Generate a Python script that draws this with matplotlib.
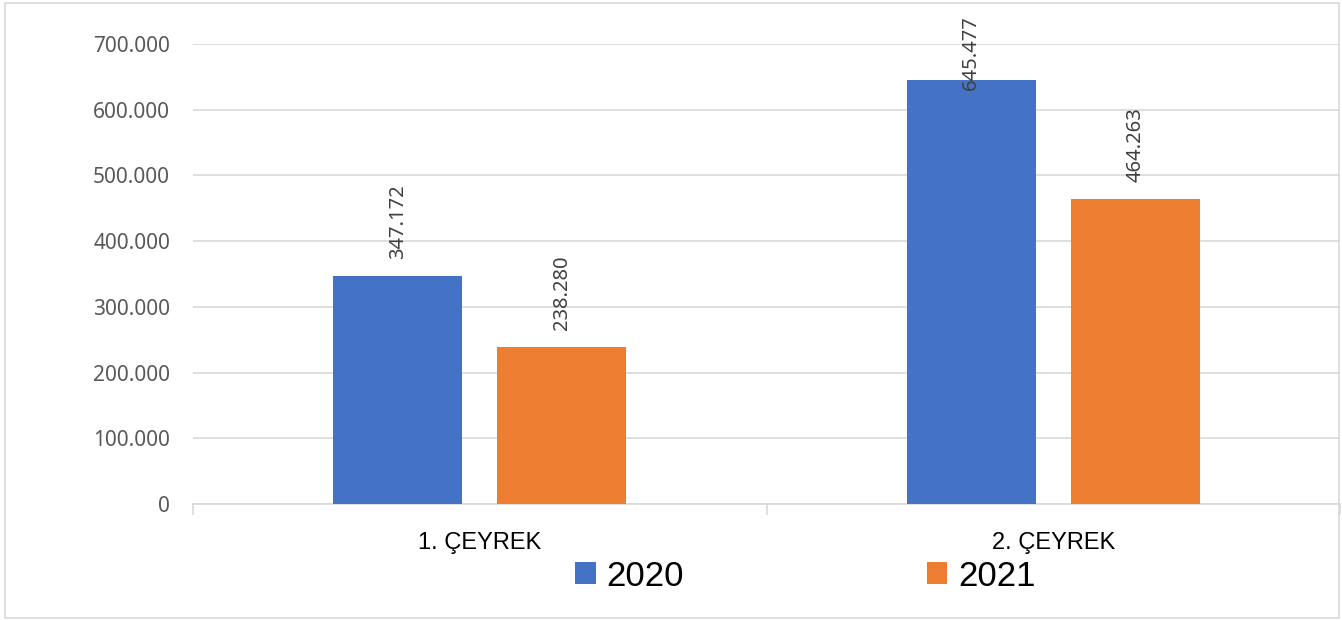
import matplotlib.pyplot as plt
import numpy as np
from matplotlib.patches import Rectangle

CATEGORIES = ["1. ÇEYREK", "2. ÇEYREK"]
SERIES = ["2020", "2021"]
VALUES_2020 = [347172, 645477]
VALUES_2021 = [238280, 464263]
COLORS = ["#4472C4", "#ED7D31"]
TICKS = [0, 100000, 200000, 300000, 400000, 500000, 600000, 700000]

NUM_FONT = ["Noto Sans", "DejaVu Sans"]
CAT_FONT = ["Liberation Sans Narrow", "Liberation Sans", "DejaVu Sans"]


def fmt(v):
    # Turkish thousand separator
    return f"{v:,.0f}".replace(",", ".")


def main():
    plt.rcParams["font.family"] = NUM_FONT
    fig = plt.figure(figsize=(13.42, 6.2), dpi=100)
    ax = fig.add_axes([193 / 1342, 1 - 504 / 620, 1147 / 1342, 460 / 620])

    # outer chart frame
    fig.patches.append(Rectangle((5 / 1342, 2 / 620), 1334 / 1342, 615 / 620,
                                 transform=fig.transFigure, fill=False,
                                 edgecolor="#D9D9D9", linewidth=1.2))

    x = np.arange(len(CATEGORIES))
    width = 0.225
    offset = 0.143
    bars = []
    for i, (vals, color, label) in enumerate(zip([VALUES_2020, VALUES_2021], COLORS, SERIES)):
        b = ax.bar(x + (2 * i - 1) * offset, vals, width=width, color=color,
                   label=label, zorder=3)
        bars.append(b)

    ax.set_xlim(-0.5, 1.5)
    ax.set_ylim(0, 700000)
    ax.set_yticks(TICKS)
    ax.set_yticklabels([fmt(t) for t in TICKS], fontsize=15, color="#595959")
    ax.tick_params(axis="y", length=0, pad=16.5)
    ax.grid(axis="y", color="#D9D9D9", linewidth=1.2, zorder=0)
    ax.set_axisbelow(True)

    ax.set_xticks([-0.5, 0.5, 1.5])
    ax.set_xticklabels([])
    ax.tick_params(axis="x", length=8, color="#D9D9D9", width=1.2)
    for c, cat in zip(x, CATEGORIES):
        ax.text(c, -0.06, cat, transform=ax.get_xaxis_transform(), ha="center",
                va="top", fontsize=17, color="black", family=CAT_FONT)

    for s in ("top", "right", "left"):
        ax.spines[s].set_visible(False)
    ax.spines["bottom"].set_color("#D9D9D9")
    ax.spines["bottom"].set_linewidth(1.2)

    # rotated value labels above the bars, kept inside the frame
    fig.canvas.draw()
    for b in bars:
        for rect in b:
            v = rect.get_height()
            cx = rect.get_x() + rect.get_width() / 2
            top_px = ax.transData.transform((cx, v))[1]
            lab_len = 77
            bottom_px = top_px + 17
            if bottom_px + lab_len > 620 - 13:
                bottom_px = 620 - 13 - lab_len
            ax.annotate(fmt(v), xy=(cx, v), xytext=(0, (bottom_px - top_px) * 72 / 100),
                        textcoords="offset points", rotation=90, ha="center", va="bottom",
                        fontsize=14.5, color="#404040", annotation_clip=False, zorder=4)

    fig.legend(loc="center", bbox_to_anchor=(805 / 1342, 1 - 576 / 620), ncol=2,
               frameon=False, handlelength=0.6, handleheight=0.6,
               handletextpad=0.3, columnspacing=7.0,
               prop={"family": CAT_FONT, "size": 25})

    fig.savefig("out.png", dpi=100, facecolor="white")


if __name__ == "__main__":
    main()
